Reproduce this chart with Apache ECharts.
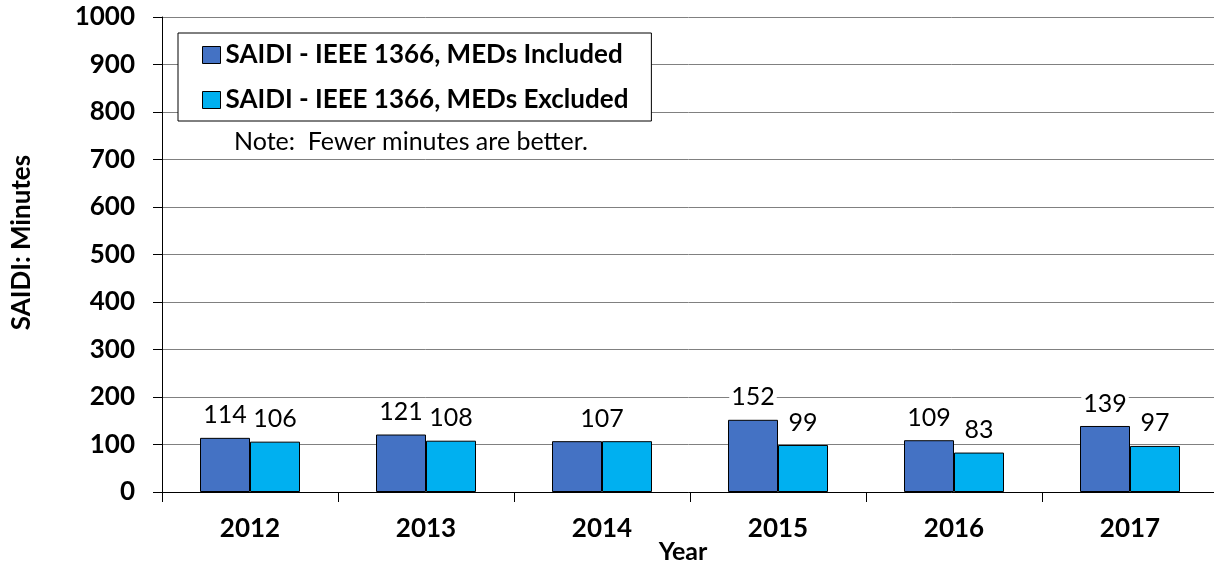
<!DOCTYPE html>
<html>
<head>
<meta charset="utf-8">
<script src="https://cdn.jsdelivr.net/npm/echarts@6/dist/echarts.min.js"></script>
<style>
html,body{margin:0;padding:0;background:#fff;}
#chart{width:1214px;height:567px;}
</style>
</head>
<body>
<div id="chart"></div>
<script>
var categories = ['2012', '2013', '2014', '2015', '2016', '2017'];
var medsIncluded = [114, 121, 107, 152, 109, 139];
var medsExcluded = [106, 108, 107, 99, 83, 97];
var seriesNames = ['SAIDI - IEEE 1366, MEDs Included', 'SAIDI - IEEE 1366, MEDs Excluded'];
var noteText = 'Note:  Fewer minutes are better.';

var FONT = 'Lato';
var chart = echarts.init(document.getElementById('chart'), null, {renderer: 'canvas'});

var labelBase = {
  show: true, position: 'top', distance: 10,
  fontFamily: FONT, fontSize: 25, color: '#000',
  backgroundColor: '#fff', padding: [0, 2]
};

// 2014: both bars equal, a single label centered on the category
var incData = medsIncluded.map(function (v, i) {
  if (i === 2) return {value: v, label: {offset: [25, 0]}};
  return v;
});
var excData = medsExcluded.map(function (v, i) {
  if (i === 2) return {value: v, label: {show: false}};
  return v;
});

chart.setOption({
  animation: false,
  grid: {left: 162, right: -4, top: 17, bottom: 75, containLabel: false, outerBoundsMode: 'none'},
  legend: {
    orient: 'vertical', left: 178, top: 33,
    padding: [9, 23, 8, 24],
    itemGap: 19,
    backgroundColor: '#fff', borderColor: '#000', borderWidth: 1,
    itemWidth: 18, itemHeight: 17, icon: 'rect',
    itemStyle: {borderColor: '#000', borderWidth: 1},
    textStyle: {fontFamily: FONT, fontSize: 26, fontWeight: 'bold', color: '#000'},
    data: seriesNames,
    z: 10
  },
  graphic: [{
    type: 'text', left: 234, top: 129, z: 10,
    style: {text: noteText, fontFamily: FONT, fontSize: 25, fill: '#000'}
  }],
  xAxis: {
    type: 'category', data: categories,
    name: 'Year', nameLocation: 'middle', nameGap: 47, nameMoveOverlap: false,
    nameTextStyle: {fontFamily: FONT, fontSize: 25, fontWeight: 'bold', color: '#000', padding: [0, 14, 0, 0]},
    axisLine: {lineStyle: {color: '#000', width: 1}},
    axisTick: {show: true, length: 10, alignWithLabel: false, lineStyle: {color: '#000'}},
    axisLabel: {fontFamily: FONT, fontSize: 26, fontWeight: 'bold', color: '#000', margin: 24},
    splitLine: {show: false}
  },
  yAxis: {
    type: 'value', min: 0, max: 1000, interval: 100,
    name: 'SAIDI: Minutes', nameLocation: 'middle', nameGap: 127, nameRotate: 90, nameMoveOverlap: false,
    nameTextStyle: {fontFamily: FONT, fontSize: 26, fontWeight: 'bold', color: '#000', padding: [0, 0, 0, 24]},
    axisLine: {show: true, lineStyle: {color: '#000', width: 1}},
    axisTick: {show: true, inside: false, length: 9, lineStyle: {color: '#000'}},
    axisLabel: {fontFamily: FONT, fontSize: 26, fontWeight: 'bold', color: '#000', margin: 27,
      formatter: function (v) { return String(v); }},
    splitLine: {show: true, lineStyle: {color: '#808080', width: 1}}
  },
  series: [
    {
      name: seriesNames[0], type: 'bar', data: incData,
      barWidth: 50, barGap: '0%',
      itemStyle: {color: '#4472C4', borderColor: '#000', borderWidth: 1},
      label: labelBase
    },
    {
      name: seriesNames[1], type: 'bar', data: excData,
      barWidth: 50, barGap: '0%',
      itemStyle: {color: '#00B0F0', borderColor: '#000', borderWidth: 1},
      label: labelBase
    }
  ]
});
</script>
</body>
</html>
